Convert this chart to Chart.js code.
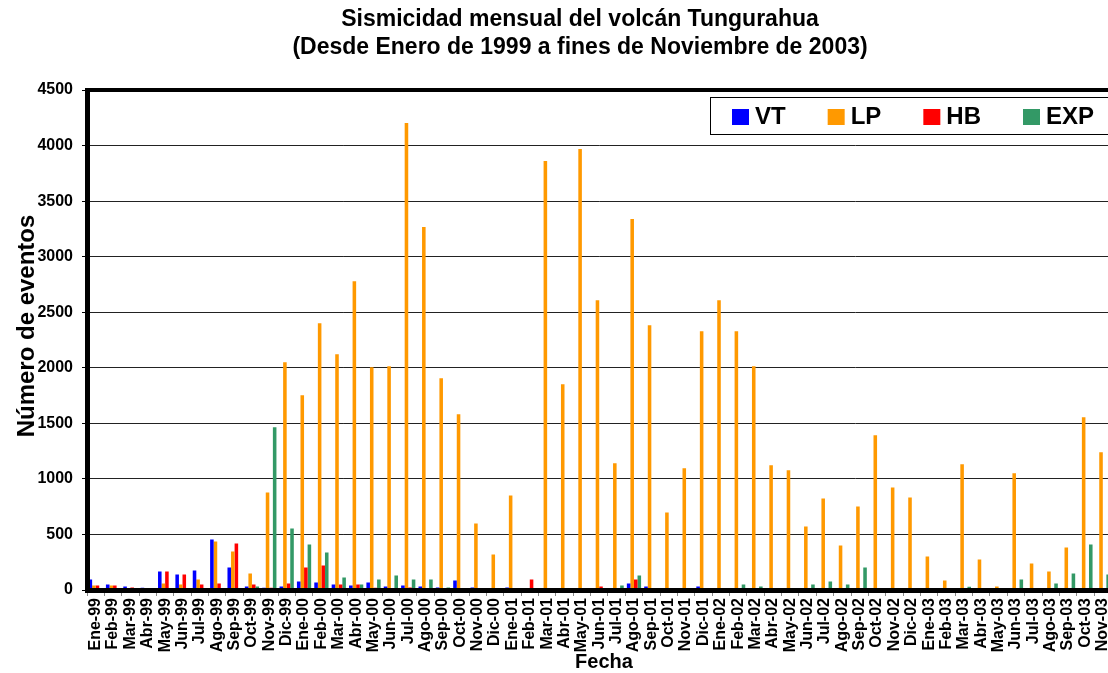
<!DOCTYPE html>
<html>
<head>
<meta charset="utf-8">
<title>Sismicidad mensual del volcán Tungurahua</title>
<script src="https://cdn.jsdelivr.net/npm/chart.js@4.4.0/dist/chart.umd.min.js"></script>
<style>
  html, body { margin: 0; padding: 0; background: #fff; overflow: hidden; }
  canvas { display: block; }
</style>
</head>
<body>
<canvas id="sismicidad" width="1124" height="673"></canvas>
<script>
// meses, Ene-99 a Nov-03
var meses = ['Ene-99','Feb-99','Mar-99','Abr-99','May-99','Jun-99','Jul-99','Ago-99','Sep-99','Oct-99','Nov-99','Dic-99',
             'Ene-00','Feb-00','Mar-00','Abr-00','May-00','Jun-00','Jul-00','Ago-00','Sep-00','Oct-00','Nov-00','Dic-00',
             'Ene-01','Feb-01','Mar-01','Abr-01','May-01','Jun-01','Jul-01','Ago-01','Sep-01','Oct-01','Nov-01','Dic-01',
             'Ene-02','Feb-02','Mar-02','Abr-02','May-02','Jun-02','Jul-02','Ago-02','Sep-02','Oct-02','Nov-02','Dic-02',
             'Ene-03','Feb-03','Mar-03','Abr-03','May-03','Jun-03','Jul-03','Ago-03','Sep-03','Oct-03','Nov-03'];

var vt = [95, 50, 32, 20, 167, 140, 176, 455, 203, 32, 20, 32,
          77, 68, 50, 40, 68, 32, 40, 32, 23, 86, 23, 14,
          23, 5, 3, 5, 3, 5, 5, 59, 32, 14, 5, 32,
          14, 14, 14, 14, 14, 14, 14, 10, 10, 14, 14, 14,
          10, 10, 10, 14, 14, 3, 3, 3, 3, 10, 14];

var lp = [40, 40, 15, 5, 59, 50, 95, 437, 347, 149, 878, 2050,
          1752, 2401, 2122, 2779, 2004, 2013, 4203, 3266, 1905, 1581, 599, 320,
          851, 5, 3860, 1851, 3968, 2608, 1140, 3338, 2383, 698, 1095, 2329,
          2608, 2329, 2013, 1122, 1077, 572, 824, 401, 752, 1392, 923, 833,
          302, 86, 1131, 275, 32, 1050, 239, 167, 383, 1554, 1239];

var hb = [40, 40, 23, 3, 167, 140, 50, 59, 419, 50, 20, 59,
          203, 220, 50, 50, 20, 10, 23, 10, 5, 5, 3, 3,
          3, 95, 3, 3, 3, 32, 5, 95, 5, 3, 5, 5,
          3, 3, 3, 3, 3, 3, 10, 3, 3, 3, 3, 3,
          3, 3, 3, 8, 3, 3, 3, 3, 3, 3, 3];

var exp = [3, 8, 3, 0, 3, 3, 3, 8, 3, 32, 1464, 554,
           410, 338, 113, 50, 95, 131, 95, 95, 23, 14, 3, 3,
           3, 5, 3, 3, 5, 14, 40, 131, 14, 3, 5, 3,
           5, 50, 32, 10, 10, 50, 77, 50, 203, 13, 8, 3,
           3, 5, 30, 10, 3, 95, 3, 58, 149, 410, 140];

var titulo = ['Sismicidad mensual del volcán Tungurahua', '(Desde Enero de 1999 a fines de Noviembre de 2003)'];
var tituloY = 'Número de eventos';
var tituloX = 'Fecha';

var fuente = "'Liberation Sans', Arial, sans-serif";

// marco grueso del area de trazado, textos y leyenda
var adornos = {
  id: 'adornos',
  afterDatasetsDraw: function (chart) {
    var ctx = chart.ctx, a = chart.chartArea;
    ctx.save();
    ctx.fillStyle = '#000';
    ctx.fillRect(a.left - 2, a.top - 2, 5, a.bottom - a.top + 4);
    ctx.fillRect(a.left - 2, a.top - 2, a.right - a.left + 4, 4);
    ctx.fillRect(a.left - 2, a.bottom - 2, a.right - a.left + 4, 5);
    ctx.restore();
  },
  afterDraw: function (chart) {
    var ctx = chart.ctx;
    ctx.save();
    ctx.fillStyle = '#000';
    ctx.textAlign = 'center';
    ctx.textBaseline = 'middle';
    ctx.font = 'bold 23px ' + fuente;
    ctx.fillText(titulo[0], 580, 20);
    ctx.fillText(titulo[1], 580, 48);
    ctx.font = 'bold 20px ' + fuente;
    ctx.fillText(tituloX, 604, 662);

    ctx.save();
    ctx.translate(27, 326);
    ctx.rotate(-Math.PI / 2);
    ctx.font = 'bold 24px ' + fuente;
    ctx.fillText(tituloY, 0, 0);
    ctx.restore();

    // leyenda
    ctx.fillStyle = '#fff';
    ctx.fillRect(710, 97, 410, 37);
    ctx.strokeStyle = '#000';
    ctx.lineWidth = 1;
    ctx.strokeRect(710.5, 97.5, 410, 37);
    ctx.font = 'bold 24px ' + fuente;
    ctx.textAlign = 'left';
    var x = 732;
    chart.data.datasets.forEach(function (ds) {
      ctx.fillStyle = ds.backgroundColor;
      ctx.fillRect(x, 109, 17, 16);
      ctx.fillStyle = '#000';
      ctx.fillText(ds.label, x + 23, 117);
      x += 23 + ctx.measureText(ds.label).width + 42;
    });
    ctx.restore();
  }
};

new Chart(document.getElementById('sismicidad'), {
  type: 'bar',
  data: {
    labels: meses,
    datasets: [
      { label: 'VT', data: vt, backgroundColor: '#0000FF' },
      { label: 'LP', data: lp, backgroundColor: '#FF9900' },
      { label: 'HB', data: hb, backgroundColor: '#FF0000' },
      { label: 'EXP', data: exp, backgroundColor: '#339966' }
    ]
  },
  options: {
    responsive: false,
    animation: false,
    devicePixelRatio: 1,
    layout: { padding: { top: 90, right: 0, left: 0, bottom: 0 } },
    datasets: { bar: { categoryPercentage: 0.82, barPercentage: 1.0, borderWidth: 0 } },
    plugins: {
      legend: { display: false },
      title: { display: false },
      tooltip: { enabled: false }
    },
    scales: {
      x: {
        afterFit: function (s) { s.height = 83; },
        border: { display: false },
        grid: { display: true, drawOnChartArea: false, offset: true, tickLength: 6, color: '#888' },
        ticks: {
          autoSkip: false, minRotation: 90, maxRotation: 90, padding: 2,
          color: '#000', font: { family: fuente, size: 16, weight: 'bold' }
        }
      },
      y: {
        min: 0, max: 4500,
        afterFit: function (s) { s.width = 87; },
        border: { display: false },
        grid: { color: '#222', lineWidth: 1, tickLength: 5, tickColor: '#000' },
        ticks: {
          stepSize: 500, padding: 9,
          color: '#000', font: { family: fuente, size: 16, weight: 'bold' },
          callback: function (v) { return String(v); }
        }
      }
    }
  },
  plugins: [adornos]
});
</script>
</body>
</html>
